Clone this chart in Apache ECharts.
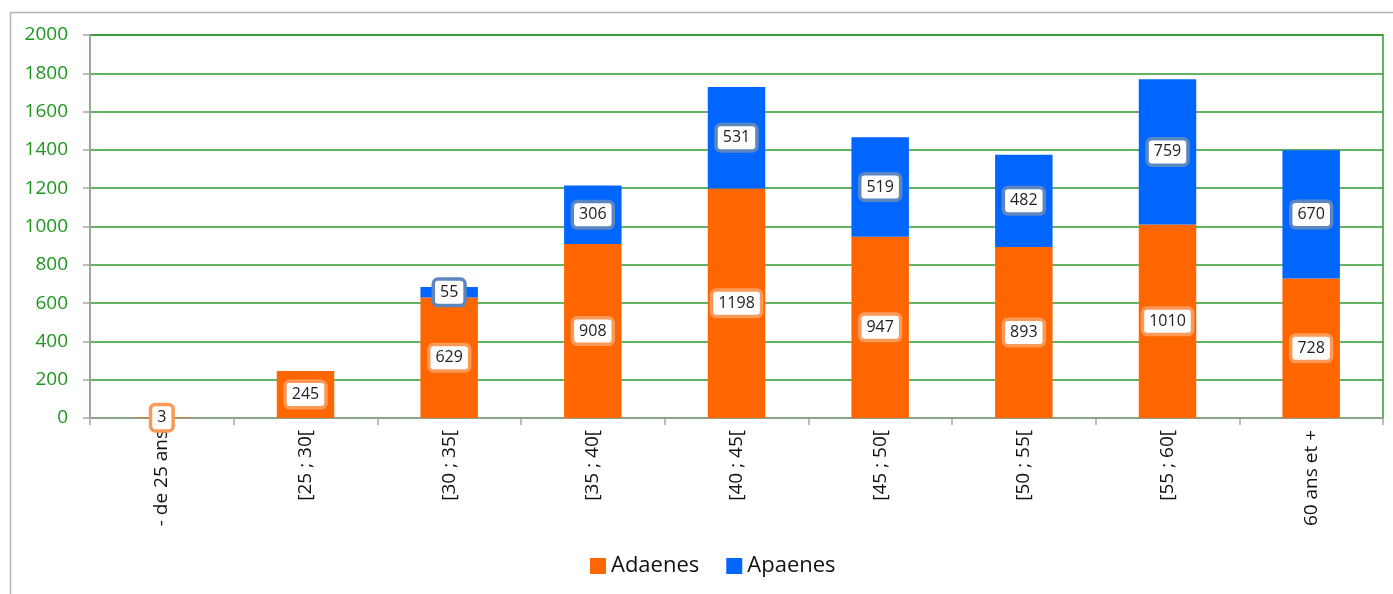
<!DOCTYPE html>
<html>
<head>
<meta charset="utf-8">
<script src="https://cdn.jsdelivr.net/npm/echarts@6/dist/echarts.min.js"></script>
<style>
  html, body { margin: 0; padding: 0; background: #fff; }
  #chart { width: 1393px; height: 594px; }
</style>
</head>
<body>
<div id="chart"></div>
<script>
// tranches d'age
const categories = ['- de 25 ans', '[25 ; 30[', '[30 ; 35[', '[35 ; 40[', '[40 ; 45[', '[45 ; 50[', '[50 ; 55[', '[55 ; 60[', '60 ans et +'];
const adaenes = [3, 245, 629, 908, 1198, 947, 893, 1010, 728];
const apaenes = [null, null, 55, 306, 531, 519, 482, 759, 670];
const yTicks = { min: 0, max: 2000, interval: 200 };

const fontName = '"Open Sans", "Noto Sans", sans-serif';

function boxLabel(borderColor) {
  return {
    show: true,
    position: 'inside',
    color: '#222',
    fontSize: 16,
    fontFamily: fontName,
    backgroundColor: '#fff',
    borderColor: borderColor,
    borderWidth: 3.5,
    borderRadius: 3,
    padding: [4, 5, 3, 5]
  };
}

const chart = echarts.init(document.getElementById('chart'));
const option = {
  animation: false,
  graphic: [{
    type: 'rect',
    shape: { x: 10.5, y: 12.5, width: 1500, height: 700 },
    style: { fill: 'none', stroke: '#b4b4b4', lineWidth: 1.5 },
    silent: true, z: -10
  }],
  grid: {
    left: 90, right: 10, top: 35, bottom: 176,
    show: true, borderColor: '#2f9a2f', borderWidth: 1.5
  },
  legend: {
    bottom: 12,
    left: 585,
    itemWidth: 16,
    itemHeight: 16,
    itemGap: 27,
    icon: 'rect',
    textStyle: { fontSize: 22, color: '#111', fontFamily: fontName },
    data: ['Adaenes', 'Apaenes']
  },
  xAxis: {
    type: 'category',
    data: categories,
    axisLine: { lineStyle: { color: '#a6a6a6', width: 1.5 } },
    axisTick: { show: true, length: 7, lineStyle: { color: '#a6a6a6', width: 1.5 } },
    axisLabel: {
      rotate: 90,
      margin: 12,
      fontSize: 19,
      color: '#111',
      fontFamily: fontName
    }
  },
  yAxis: {
    type: 'value',
    min: yTicks.min,
    max: yTicks.max,
    interval: yTicks.interval,
    axisLine: { show: true, lineStyle: { color: '#a6a6a6', width: 1.5 } },
    axisTick: { show: true, length: 7, lineStyle: { color: '#a6a6a6', width: 1.5 } },
    axisLabel: {
      fontSize: 19, color: '#1e961e', margin: 22, fontFamily: fontName,
      formatter: v => String(v)
    },
    splitLine: { lineStyle: { color: '#2f9a2f', width: 1.5 } }
  },
  series: [
    {
      name: 'Adaenes',
      type: 'bar',
      stack: 'total',
      barWidth: '40%',
      itemStyle: { color: '#ff6600' },
      label: boxLabel('#fb9a58'),
      data: adaenes
    },
    {
      name: 'Apaenes',
      type: 'bar',
      stack: 'total',
      barWidth: '40%',
      itemStyle: { color: '#0066ff' },
      label: boxLabel('#5b86c0'),
      data: apaenes
    }
  ]
};
chart.setOption(option);
</script>
</body>
</html>
